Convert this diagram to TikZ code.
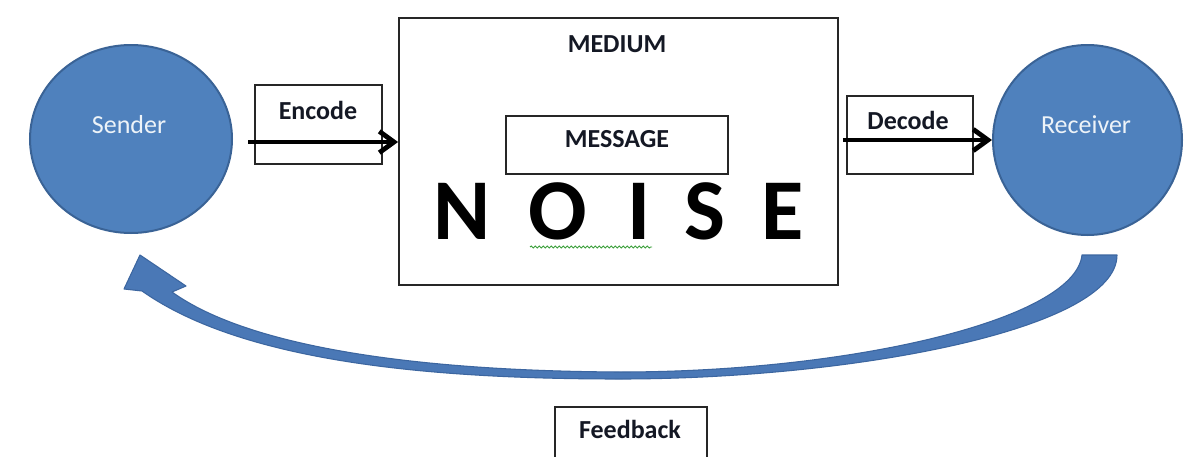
\documentclass[tikz,border=0pt]{standalone}
\usepackage{fontspec}
\setmainfont{Carlito}
\usetikzlibrary{arrows.meta,shapes.geometric,decorations.pathmorphing}
\newdimen\pxu \pxu=0.75pt
\definecolor{blueF}{HTML}{4F81BD}
\definecolor{blueD}{HTML}{3A6396}
\definecolor{fbF}{HTML}{4A78B6}
\definecolor{fbD}{HTML}{3C66A0}
\definecolor{txt}{HTML}{141824}
\definecolor{sq}{HTML}{3CA03C}
\begin{document}
\begin{tikzpicture}[x=0.75pt,y=-0.75pt,
  circ/.style={ellipse, draw=blueD, fill=blueF, line width=1.5pt, inner sep=0},
  box/.style={draw=black!85, line width=1.1pt, inner sep=0},
  lbl/.style={font=\fontsize{19.5}{23}\selectfont\bfseries, text=txt, anchor=base, inner sep=0},
  wlbl/.style={font=\fontsize{19.5}{23}\selectfont, text=white!90!blueF, anchor=base, inner sep=0},
  noise/.style={font=\fontsize{65}{70}\selectfont\bfseries, text=black, anchor=base, inner sep=0},
  conn/.style={line width=3.6pt, -{Straight Barb[length=11pt,width=16pt]}}]
\useasboundingbox (0,0) rectangle (1190,457);
\fill[white] (0,0) rectangle (1190,457);
% circles
\node[circ, minimum width=202\pxu, minimum height=188\pxu] (sender) at (131,139) {};
\node[wlbl] (sendert) at (129,133) {Sender};
\node[circ, minimum width=189\pxu, minimum height=190\pxu] (receiver) at (1087.5,140) {};
\node[wlbl] (receivert) at (1086,133) {Receiver};
% boxes
\node[box, minimum width=127\pxu, minimum height=79\pxu] (encode) at (318.5,124.5) {};
\node[lbl] (encodet) at (318,119) {Encode};
\node[box, line width=1.4pt, minimum width=439\pxu, minimum height=267\pxu] (medium) at (618.5,151.5) {};
\node[lbl] (mediumt) at (617,52) {MEDIUM};
\node[box, minimum width=222\pxu, minimum height=58\pxu] (message) at (617,145) {};
\node[lbl] (messaget) at (617,147) {MESSAGE};
\node[box, minimum width=126\pxu, minimum height=78\pxu] (decode) at (910,135) {};
\node[lbl] (decodet) at (908,129) {Decode};
\node[box, minimum width=152\pxu, minimum height=66\pxu] (feedback) at (631,440) {};
\node[lbl] (feedbackt) at (630,438) {Feedback};
% noise letters
\node[noise] (n1) at (462,239) {N};
\node[noise] (n2) at (558,239) {O};
\node[noise] (n3) at (639,239) {I};
\node[noise] (n4) at (705,239) {S};
\node[noise] (n5) at (783,239) {E};
\draw[sq, line width=0.7pt, decorate, decoration={snake, amplitude=1\pxu, segment length=4\pxu}] (530,247) -- (652,247);
% connectors
\draw[conn, shorten <=15\pxu] (sender.east |- 0,142) -- (medium.west |- 0,142);
\draw[conn, shorten <=4\pxu] (receiver.west -| medium.east) -- (receiver.west);
% feedback curved arrow
\filldraw[fill=fbF, draw=fbD, line width=0.8pt, line join=round]
  (140,255) -- (186,286) -- (172,292)
  .. controls (250,348) and (420,371) .. (620,372)
  .. controls (850,372) and (1075,320) .. (1082,255)
  -- (1117,255)
  .. controls (1117,330) and (850,379) .. (620,379)
  .. controls (420,379) and (240,360) .. (142,291)
  -- (124,289) -- cycle;
\end{tikzpicture}
\end{document}
